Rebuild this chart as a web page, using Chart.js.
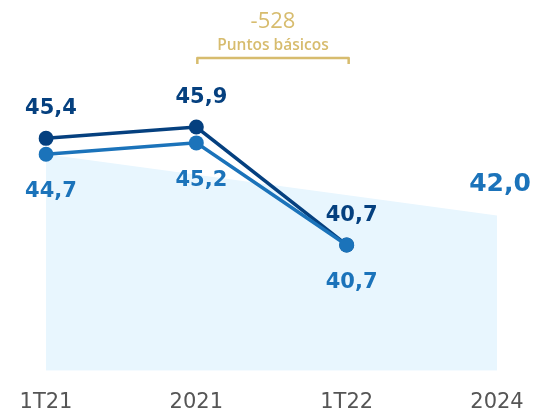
<!DOCTYPE html>
<html>
<head>
<meta charset="utf-8">
<script src="https://cdn.jsdelivr.net/npm/chart.js@4"></script>
<style>
  body { margin: 0; background: #fff; }
  #wrap { width: 549px; height: 414px; }
</style>
</head>
<body>
<div id="wrap"><canvas id="myChart"></canvas></div>
<script>
const labels = ["1T21", "2021", "1T22", "2024"];
const seriesA = [45.4, 45.9, 40.7, null];   // dark line
const seriesB = [44.7, 45.2, 40.7, null];   // light line
const target = [44.7, null, null, 42.0];    // shaded area, only ends known
const deltaText = "-528";
const deltaSub = "Puntos básicos";

const DARK = '#05407F';
const LIGHT = '#1B73BA';
const GOLD = '#D7BC6E';

function fmt(v) { return v.toFixed(1).replace('.', ','); }

// value labels + bracket annotation
const labelPlugin = {
  id: 'labels',
  afterDatasetsDraw(chart) {
    const ctx = chart.ctx;
    const x = chart.scales.x;
    ctx.save();
    ctx.textAlign = 'center';
    ctx.textBaseline = 'alphabetic';

    chart.getDatasetMeta(0).data.forEach((pt, i) => {
      if (seriesA[i] == null) return;
      ctx.fillStyle = DARK;
      ctx.font = 'bold 21px "DejaVu Sans"';
      ctx.fillText(fmt(seriesA[i]), pt.x + 5, pt.y - 24);
    });
    chart.getDatasetMeta(1).data.forEach((pt, i) => {
      if (seriesB[i] == null) return;
      ctx.fillStyle = LIGHT;
      ctx.font = 'bold 21px "DejaVu Sans"';
      ctx.fillText(fmt(seriesB[i]), pt.x + 5, pt.y + 43);
    });
    const last = chart.getDatasetMeta(2).data[3];
    ctx.fillStyle = LIGHT;
    ctx.font = 'bold 25px "DejaVu Sans"';
    ctx.fillText(fmt(target[3]), last.x + 3, last.y - 24);

    // bracket between 2021 and 1T22
    const x1 = x.getPixelForValue(1) + 1, x2 = x.getPixelForValue(2) + 2;
    const mid = (x1 + x2) / 2;
    ctx.strokeStyle = GOLD;
    ctx.lineWidth = 2.5;
    ctx.lineJoin = 'round';
    ctx.beginPath();
    ctx.moveTo(x1, 64);
    ctx.lineTo(x1, 58);
    ctx.lineTo(x2, 58);
    ctx.lineTo(x2, 64);
    ctx.stroke();

    ctx.fillStyle = GOLD;
    ctx.font = '22px "Open Sans"';
    ctx.fillText(deltaText, mid, 28);
    ctx.font = '600 15.5px "Open Sans"';
    ctx.fillText(deltaSub, mid, 50);
    ctx.restore();
  }
};

const ctx = document.getElementById('myChart');

new Chart(ctx, {
  type: 'line',
  data: {
    labels: labels,
    datasets: [
      {
        data: seriesA,
        borderColor: DARK,
        backgroundColor: DARK,
        borderWidth: 3.5,
        pointRadius: 7.5,
        pointBackgroundColor: DARK,
        pointBorderWidth: 0,
        order: 2
      },
      {
        data: seriesB,
        borderColor: LIGHT,
        backgroundColor: LIGHT,
        borderWidth: 3.5,
        pointRadius: 7.5,
        pointBackgroundColor: LIGHT,
        pointBorderWidth: 0,
        order: 1
      },
      {
        data: target,
        spanGaps: true,
        fill: 'start',
        backgroundColor: '#E8F6FE',
        borderWidth: 0,
        pointRadius: 0,
        order: 3
      }
    ]
  },
  options: {
    responsive: true,
    maintainAspectRatio: false,
    animation: false,
    layout: { autoPadding: false, padding: { left: 46, right: 52, top: 0, bottom: -12 } },
    plugins: {
      legend: { display: false },
      tooltip: { enabled: false }
    },
    scales: {
      x: {
        offset: false,
        grid: { display: false },
        border: { display: false },
        ticks: {
          color: '#555',
          font: { family: 'DejaVu Sans', size: 21 },
          padding: 11
        }
      },
      y: {
        display: false,
        min: 35.15,
        max: 51.5
      }
    }
  },
  plugins: [labelPlugin]
});
</script>
</body>
</html>
